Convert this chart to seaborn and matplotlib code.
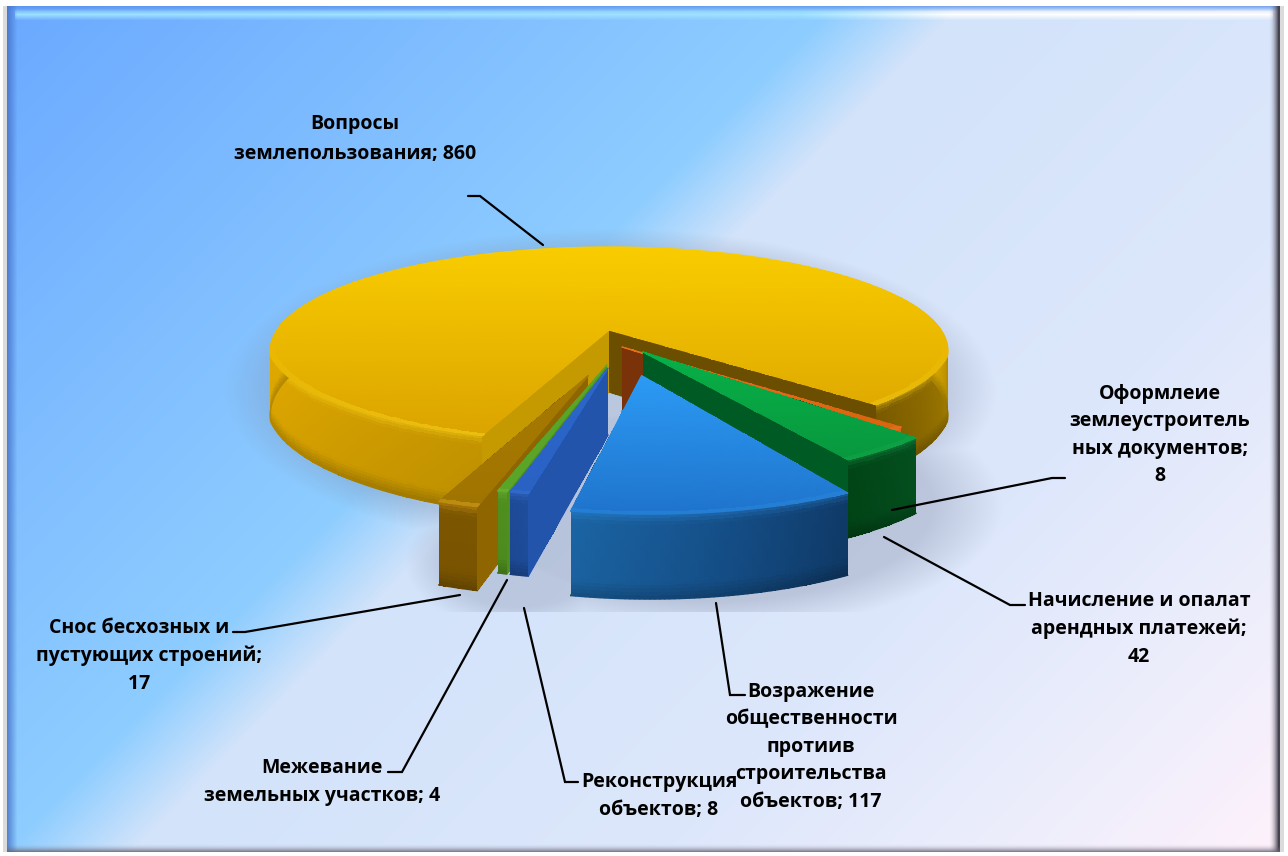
import numpy as np
import matplotlib
matplotlib.use("Agg")
import matplotlib.pyplot as plt
from matplotlib.collections import LineCollection
from matplotlib.colors import to_rgb
import seaborn as sns

sns.set_theme(style="white")
plt.rcParams['font.family'] = ['Open Sans', 'DejaVu Sans']

# Chart data, clockwise starting from the orange slice
values = [8, 42, 117, 8, 4, 17, 860]
labels = [
    "Оформлеие\nземлеустроитель\nных документов;\n8",
    "Начисление и опалат\nарендных платежей;\n42",
    "Возражение\nобщественности\nпротиив\nстроительства\nобъектов; 117",
    "Реконструкция\nобъектов; 8",
    "Межевание\nземельных участков; 4",
    "Снос бесхозных и    \nпустующих строений;\n17    ",
    "Вопросы\nземлепользования; 860",
]
label_xy = [(1160, 435), (1139, 629), (811, 747), (659, 796), (322, 782), (149, 656), (355, 139)]
label_spacing = [1.5, 1.5, 1.5, 1.5, 1.5, 1.52, 1.63]
leaders = [
    [(1065, 478), (1052, 478), (892, 510)],
    [(1025, 605), (1010, 605), (884, 537)],
    [(745, 695), (730, 695), (716, 603)],
    [(578, 782), (565, 782), (524, 608)],
    [(388, 772), (402, 772), (507, 580)],
    [(233, 632), (245, 632), (460, 595)],
    [(468, 196), (480, 196), (543, 245)],
]

# Look of every slice: offset from the centre, radius, small turn, colours
offset_x = [0.038, 0.097, 0.09, -0.003, -0.006, -0.0575, 0.0]
offset_y = [-0.165, -0.21, -0.42, -0.356, -0.33, -0.42, 0.0]
radius = [0.955, 0.95, 0.93, 0.90, 0.925, 0.92, 1.0]
twist = [0, 0, -0.9, -1.6, -1.5, -0.8, 0]
top_near = ["#e8701a", "#08b048", "#2c9af4", "#2a66c8", "#5aa528", "#a67a00", "#f9cc00"]
top_far = ["#d86410", "#08983e", "#1f74cc", "#2a62c4", "#5aa528", "#a07400", "#dba400"]
rim = ["#f08030", "#18a850", "#2a88dc", "#3a72d0", "#70b838", "#e0a81e", "#ffdc20"]
wall_start = ["#7a3208", "#005a24", "#005a24", "#20549f", "#4f8f1f", "#8a6200", "#6b4e00"]
wall_end = ["#7a3208", "#005a24", "#005a24", "#2254ac", "#4f8f1f", "#8f6500", "#c49a00"]
outer_pos = [
    [0, 1], [0, 1], [0, 0.5, 1], [0, 1], [0, 1], [0, 1],
    [0, 0.15, 0.3, 0.75, 0.84, 0.92, 1],
]
outer_col = [
    ["#c85a10", "#c85a10"],
    ["#04501f", "#014516"],
    ["#0f3a68", "#15508a", "#1b65a5"],
    ["#1e4e9e", "#1e4a96"],
    ["#4f8f1f", "#4f8f1f"],
    ["#7d5600", "#7d5600"],
    ["#c49400", "#dca600", "#e8b000", "#e0aa00", "#d8a800", "#9a7600", "#7a5a00"],
]
front_trim = [0, 0, 0, 0, 0, 0, 0.1]
draw_order = [6, 5, 4, 3, 0, 1, 2]

# Camera and pie shape
CX, CY = 609, 330
R0, TILT, PERSP, DEPTH = 332, 0.3, 0.2, 62
START = -43.0


def project(x, y, z=0.0):
    f = 1 / (1 + PERSP * y)
    return CX + R0 * x * f, CY - R0 * TILT * y * f + z * f


def mix(a, b, t):
    t = np.asarray(t)[..., None]
    return np.asarray(a) * (1 - t) + np.asarray(b) * t


def background():
    h, w = 856, 1288
    yy, xx = np.mgrid[0:h, 0:w]
    t = xx + 0.98 * yy
    pos = [0, 400, 840, 900, 965, 1500, 1800, 2127]
    cols = np.array([to_rgb(c) for c in
                     ["#6aa8ff", "#7cbaff", "#8ecdff", "#aed8fd", "#d2e3fa", "#dde7fb", "#ebedfc", "#fff2fb"]])
    img = np.dstack([np.interp(t, pos, cols[:, i]) for i in range(3)])

    # soft shadow below the pie
    d1 = np.hypot((xx - 610) / 345, (yy - 390) / 145)
    d2 = np.hypot((xx - 710) / 255, (yy - 505) / 110)
    d3 = np.hypot((xx - 520) / 100, (yy - 560) / 62)
    a = 0.30 * np.clip((1.12 - d1) / 0.16, 0, 1)
    a = np.maximum(a, 0.34 * np.clip((1.15 - d2) / 0.28, 0, 1))
    a = np.maximum(a, 0.30 * np.clip((1.15 - d3) / 0.4, 0, 1))
    a = a * ((yy < 612) | (xx < 420))
    img = mix(img, to_rgb("#7d86a0"), a)

    # bevels of the frame
    bright = np.clip(1 - np.abs(yy - 14) / 6, 0, 1) * (xx > 14) * (xx < 1273)
    line_col = mix(to_rgb("#9fe3ff"), to_rgb("#ffffff"), np.clip((xx - 800) / 150, 0, 1))
    img = img * (1 - 0.95 * bright[..., None]) + line_col * 0.95 * bright[..., None]
    img = mix(img, to_rgb("#5a8fe8"), np.clip((11 - yy) / 5, 0, 1) * 0.7)
    img = mix(img, to_rgb("#3f6cc4"), np.clip((17 - xx) / 10, 0, 1) * 0.75)
    img = mix(img, to_rgb("#45424f"), np.clip((xx - 1268) / 10, 0, 1) ** 2)
    img = mix(img, to_rgb("#6a6474"), np.clip((yy - 843) / 9, 0, 1) ** 2)

    # white margin outside of the frame
    outside = (xx < 7) | (xx > 1279) | (yy < 6) | (yy > 851)
    img[outside] = 1.0
    edge = ((xx >= 3) & (xx < 7) & (yy > 5) & (yy < 852)) | ((xx > 1279) & (xx < 1284) & (yy > 5) & (yy < 852))
    img[edge] = 0.86
    return img


def mesh(ax, sx, sy, colors):
    ax.pcolormesh(sx, sy, colors, shading="flat", antialiased=False, linewidth=0, zorder=2)


def smooth_edge(ax, sx, sy, colors, lw=0.9):
    # thin line over a jagged mesh border
    pts = np.column_stack([sx, sy])
    segs = np.stack([pts[:-1], pts[1:]], axis=1)
    ax.add_collection(LineCollection(segs, colors=np.clip(colors, 0, 1), linewidths=lw,
                                     capstyle="round", zorder=2))


def draw_slice(ax, i, a0, a1):
    ox, oy, rr = offset_x[i], offset_y[i], radius[i]
    n = max(int(abs(a1 - a0) * 1.5), 6)
    th = np.radians(np.linspace(a0, a1, n + 1) + twist[i])
    th_mid = (th[:-1] + th[1:]) / 2
    s_mid = 1 - (np.arange(n) + 0.5) / n
    u = np.linspace(0, 1, 25)
    u_mid = (u[:-1] + u[1:]) / 2
    edge_r = rr * (1 - front_trim[i] * np.clip(-np.sin(th) - 0.25, 0, 1))

    # flat side walls
    for ang, er, col in ((th[0], edge_r[0], wall_start[i]), (th[-1], edge_r[-1], wall_end[i])):
        r = np.linspace(0, er, 9)
        x = ox + r * np.cos(ang)
        y = oy + r * np.sin(ang)
        sx = np.array([project(x, y, d * DEPTH)[0] for d in (0, 1)])
        sy = np.array([project(x, y, d * DEPTH)[1] for d in (0, 1)])
        c = np.tile(np.array(to_rgb(col)), (1, 8, 1))
        mesh(ax, sx, sy, c)
        smooth_edge(ax, sx[1], sy[1], c[0])

    # outer wall
    x = ox + edge_r * np.cos(th)
    y = oy + edge_r * np.sin(th)
    sx = np.array([project(x, y, d * DEPTH)[0] for d in u])
    sy = np.array([project(x, y, d * DEPTH)[1] for d in u])
    base = np.array([np.interp(s_mid, outer_pos[i], [to_rgb(c)[k] for c in outer_col[i]])
                     for k in range(3)]).T
    shade = np.interp(u_mid, [0, 0.8, 1], [1.0, 0.97, 0.78])
    c = base[None, :, :] * shade[:, None, None]
    glow = np.interp(u_mid, [0, 0.12], [0.4, 0])
    c = c * (1 - glow[:, None, None]) + np.array(to_rgb(rim[i])) * glow[:, None, None]
    mesh(ax, sx, sy, c)
    smooth_edge(ax, sx[-1], sy[-1], base * 0.8)

    # top face, shaded from back to front on the screen
    r = np.linspace(0, 1, 61)
    r_mid = (r[:-1] + r[1:]) / 2
    x = ox + np.outer(r, edge_r * np.cos(th))
    y = oy + np.outer(r, edge_r * np.sin(th))
    sx, sy = project(x, y)
    cell_y = (sy[:-1, :-1] + sy[1:, 1:]) / 2
    span = (cell_y - cell_y.min()) / (cell_y.max() - cell_y.min())
    c = mix(to_rgb(top_near[i]), to_rgb(top_far[i]), span)
    front = np.clip(-0.1 - np.sin(th_mid), 0, 1)
    edge = np.interp(r_mid, [0.975, 1.0], [0, 0.8])[:, None] * front[None, :]
    c = mix(c, to_rgb(rim[i]), edge)
    mesh(ax, sx, sy, c)
    smooth_edge(ax, sx[-1], sy[-1], c[-1])
    for k, col in ((0, c[:, 0]), (-1, c[:, -1])):
        smooth_edge(ax, sx[:, k], sy[:, k], col)


fig = plt.figure(figsize=(12.88, 8.56), dpi=100)
ax = fig.add_axes([0, 0, 1, 1])
ax.imshow(background(), extent=(0, 1288, 856, 0), aspect="auto", interpolation="nearest", zorder=0)

# slice angles follow the values
sweep = np.array(values) / sum(values) * 360
ends = START - np.cumsum(sweep)
starts = ends + sweep
for i in draw_order:
    draw_slice(ax, i, ends[i], starts[i])

for pts in leaders:
    ax.plot(*zip(*pts), color="black", lw=1.6, solid_joinstyle="miter", zorder=5)
for text, (tx, ty), sp in zip(labels, label_xy, label_spacing):
    ax.text(tx, ty, text, ha="center", va="center", fontsize=14, fontweight="bold",
            color="black", linespacing=sp, zorder=6)

ax.set_xlim(0, 1288)
ax.set_ylim(856, 0)
ax.axis("off")
fig.savefig("out.png", dpi=100)
